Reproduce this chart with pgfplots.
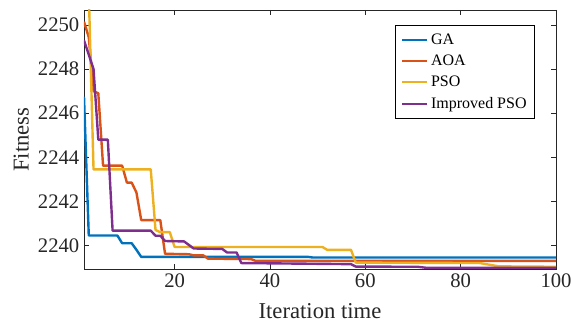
\documentclass[border=0pt]{standalone}
\usepackage{pgfplots}
\pgfplotsset{compat=1.18}
\usepackage{fontspec}
\setmainfont{Liberation Serif}
\definecolor{cGA}{rgb}{0,0.447,0.741}
\definecolor{cAOA}{rgb}{0.850,0.325,0.098}
\definecolor{cPSO}{rgb}{0.929,0.694,0.125}
\definecolor{cIPSO}{rgb}{0.494,0.184,0.556}
\definecolor{axc}{rgb}{0.15,0.15,0.15}
\begin{document}
\begin{tikzpicture}
\path[use as bounding box] (-63pt,-41.25pt) rectangle (365.25pt,201.75pt);
\begin{axis}[
  scale only axis, width=354pt, height=194.25pt,
  xmin=1, xmax=100, ymin=2238.93, ymax=2250.68,
  xtick={20,40,60,80,100}, ytick={2240,2242,2244,2246,2248,2250},
  tick align=inside, tick pos=both,
  major tick length=4pt,
  axis line style={axc, line width=0.6pt},
  every tick/.style={axc, line width=0.6pt},
  /pgf/number format/assume math mode=true,
  /pgf/number format/1000 sep={},
  tick label style={font=\fontsize{15.5}{18}\selectfont, text=axc},
  label style={font=\fontsize{17}{20}\selectfont, text=axc},
  xlabel={Iteration time}, ylabel={Fitness},
  xlabel style={yshift=-5pt},
  legend style={at={(0.9555,0.942)}, anchor=north east, draw=black, line width=0.6pt,
    font=\fontsize{12}{14}\selectfont, inner xsep=4pt, inner ysep=4pt, row sep=2.5pt},
  legend cell align=left,
  legend image code/.code={\draw[#1, line width=1.8pt] (0pt,0pt) -- (18.75pt,0pt);},
  clip=true,
  every axis plot/.append style={line width=1.8pt, line join=round},
]
\addplot[cGA] coordinates {(1,2246.75) (2,2240.45) (8,2240.45) (9,2240.1) (11,2240.1) (12,2239.8) (13,2239.48) (48,2239.48) (49,2239.45) (100,2239.45)};
\addlegendentry{GA}
\addplot[cAOA] coordinates {(1,2250.15) (2,2249.45) (3,2247.0) (4,2246.9) (5,2243.62) (9,2243.62) (10,2242.85) (11,2242.85) (12,2242.4) (13,2241.15) (17,2241.15) (18,2239.62) (23,2239.6) (24,2239.55) (26,2239.55) (27,2239.4) (36,2239.38) (37,2239.3) (100,2239.3)};
\addlegendentry{AOA}
\addplot[cPSO] coordinates {(1,2251.5) (2,2251.5) (3,2243.45) (15,2243.45) (16,2240.7) (17,2240.6) (19,2240.6) (20,2239.93) (51,2239.93) (52,2239.8) (57,2239.8) (58,2239.22) (84,2239.2) (88,2239.05) (100,2239.03)};
\addlegendentry{PSO}
\addplot[cIPSO] coordinates {(1,2249.3) (3,2248.0) (4,2244.8) (6,2244.8) (7,2240.67) (15,2240.67) (16,2240.44) (17,2240.44) (18,2240.2) (22,2240.18) (24,2239.86) (30,2239.84) (31,2239.68) (33,2239.68) (34,2239.2) (57,2239.15) (58,2239.04) (71,2239.03) (73,2238.98) (100,2238.98)};
\addlegendentry{Improved PSO}
\end{axis}
\end{tikzpicture}
\end{document}
